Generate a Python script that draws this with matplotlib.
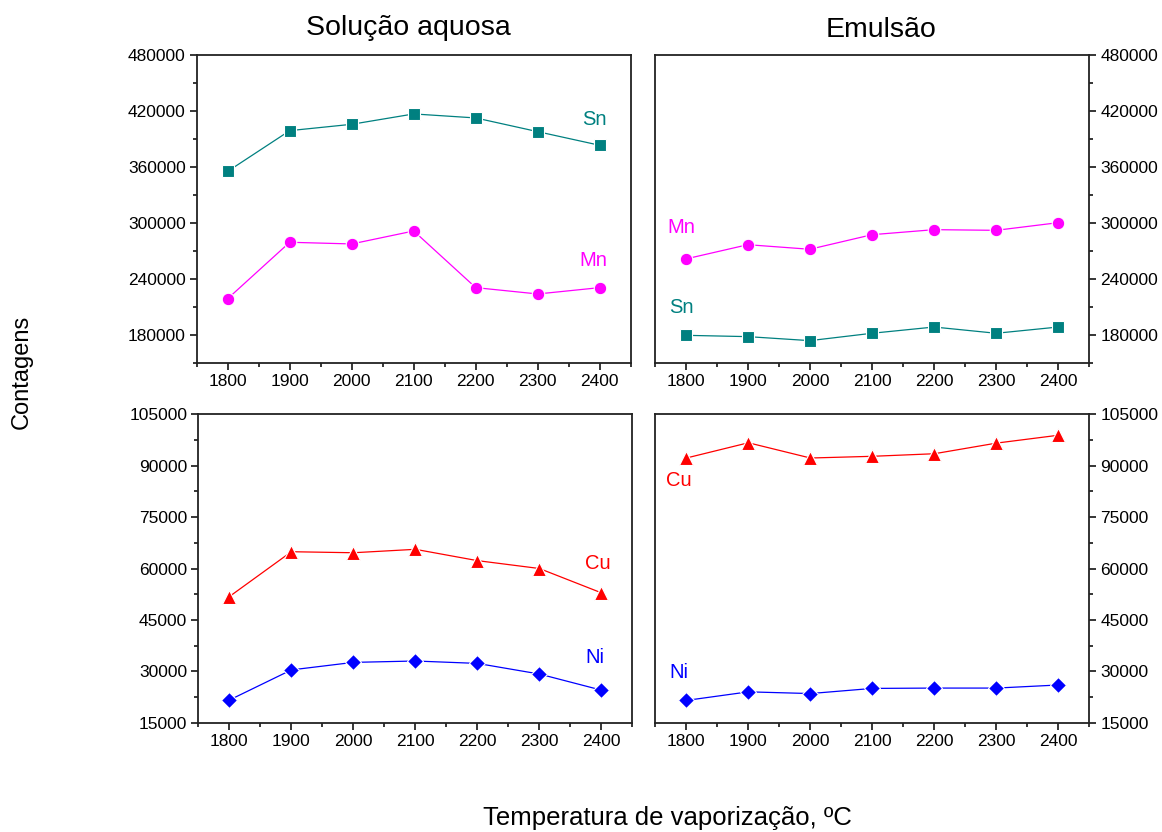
import matplotlib
matplotlib.use('Agg')
import matplotlib.pyplot as plt
from matplotlib.ticker import MultipleLocator

plt.rcParams['font.family'] = ['Liberation Sans', 'DejaVu Sans']

temps = [1800, 1900, 2000, 2100, 2200, 2300, 2400]

# Solução aquosa
sn_aq = [355000, 398600, 405400, 416500, 412200, 397500, 382900]
mn_aq = [218600, 279000, 277200, 291100, 230400, 223600, 230400]
cu_aq = [51800, 64900, 64600, 65600, 62300, 60000, 52900]
ni_aq = [21600, 30400, 32600, 33000, 32300, 29200, 24500]

# Emulsão
sn_em = [179300, 177900, 173600, 181500, 188200, 181500, 188200]
mn_em = [261100, 276400, 271500, 287100, 292500, 291800, 300000]
cu_em = [92250, 96700, 92250, 92750, 93500, 96600, 98900]
ni_em = [21500, 24000, 23500, 25000, 25100, 25100, 26000]

teal = '#008080'
magenta = '#FF00FF'
red = '#FF0000'
blue = '#0000FF'

fig = plt.figure(figsize=(11.62, 8.32), dpi=100)

ax_tl = fig.add_axes([0.1693, 0.5641, 0.3735, 0.3702])
ax_tr = fig.add_axes([0.5634, 0.5641, 0.3740, 0.3702])
ax_bl = fig.add_axes([0.1707, 0.1314, 0.3735, 0.3706])
ax_br = fig.add_axes([0.5640, 0.1314, 0.3735, 0.3706])


def series(ax, y, color, marker, ms):
    ax.plot(temps, y, color=color, lw=0.9, marker=marker, ms=ms,
            mfc=color, mec='white', mew=0.8)


def style(ax, right=False):
    ax.set_xlim(1750, 2450)
    ax.xaxis.set_major_locator(MultipleLocator(100))
    ax.xaxis.set_minor_locator(MultipleLocator(50))
    for s in ax.spines.values():
        s.set_linewidth(1.3)
        s.set_color('#222222')
    ax.tick_params(which='both', direction='out', top=False, labelsize=12.5,
                   width=1.1, colors='black')
    ax.tick_params(which='major', length=5, pad=3)
    ax.tick_params(which='minor', length=3)
    if right:
        ax.yaxis.tick_right()
        ax.tick_params(axis='y', which='both', left=False, right=True)
    else:
        ax.tick_params(axis='y', which='both', left=True, right=False)


series(ax_tl, sn_aq, teal, 's', 8.5)
series(ax_tl, mn_aq, magenta, 'o', 9)
series(ax_tr, mn_em, magenta, 'o', 9)
series(ax_tr, sn_em, teal, 's', 8.5)
series(ax_bl, cu_aq, red, '^', 10)
series(ax_bl, ni_aq, blue, 'D', 8.5)
series(ax_br, cu_em, red, '^', 10)
series(ax_br, ni_em, blue, 'D', 8.5)

for ax in (ax_tl, ax_tr):
    ax.set_ylim(150000, 480000)
    ax.set_yticks([180000, 240000, 300000, 360000, 420000, 480000])
    ax.yaxis.set_minor_locator(MultipleLocator(30000))
for ax in (ax_bl, ax_br):
    ax.set_ylim(15000, 105000)
    ax.set_yticks([15000, 30000, 45000, 60000, 75000, 90000, 105000])
    ax.yaxis.set_minor_locator(MultipleLocator(7500))

style(ax_tl)
style(ax_tr, right=True)
style(ax_bl)
style(ax_br, right=True)

lab = dict(fontsize=14.5, ha='center', va='center')
ax_tl.text(2392, 410000, 'Sn', color=teal, **lab)
ax_tl.text(2390, 260000, 'Mn', color=magenta, **lab)
ax_tr.text(1793, 294300, 'Mn', color=magenta, **lab)
ax_tr.text(1793, 208600, 'Sn', color=teal, **lab)
ax_bl.text(2395, 61600, 'Cu', color=red, **lab)
ax_bl.text(2390, 33900, 'Ni', color=blue, **lab)
ax_br.text(1788, 85700, 'Cu', color=red, **lab)
ax_br.text(1788, 29700, 'Ni', color=blue, **lab)

fig.text(408 / 1162, 1 - 28 / 832, 'Solução aquosa', fontsize=20.5, ha='center', va='center')
fig.text(881 / 1162, 1 - 30 / 832, 'Emulsão', fontsize=20.5, ha='center', va='center')
fig.text(22 / 1162, 1 - 372 / 832, 'Contagens', fontsize=17, rotation=90, ha='center', va='center')
fig.text(667 / 1162, 1 - 818 / 832, 'Temperatura de vaporização, ºC', fontsize=18.5,
         ha='center', va='center')

fig.savefig('out.png', dpi=100)
